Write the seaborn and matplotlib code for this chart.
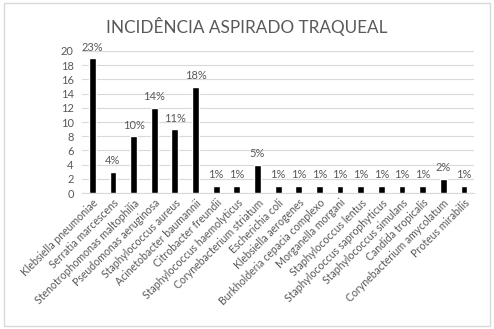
import matplotlib
matplotlib.use("Agg")
import matplotlib.pyplot as plt
import seaborn as sns
import pandas as pd

categories = [
    "Klebsiella pneumoniae", "Serratia marcescens", "Stenotrophomonas maltophilia",
    "Pseudomonas aeruginosa", "Staphylococcus aureus", "Acinetobacter baumannii",
    "Citrobacter freundii", "Staphylococcus haemolyticus", "Corynebacterium striatum",
    "Escherichia coli", "Klebsiella aerogenes", "Burkholderia cepacia complexo",
    "Morganella morgani", "Staphylococcus lentus", "Staphylococcus saprophyticus",
    "Staphylococcus simulans", "Candida tropicalis", "Corynebacterium amycolatum",
    "Proteus mirabilis",
]
counts = [19, 3, 8, 12, 9, 15, 1, 1, 4, 1, 1, 1, 1, 1, 1, 1, 1, 2, 1]
pct_labels = ["23%", "4%", "10%", "14%", "11%", "18%", "1%", "1%", "5%",
              "1%", "1%", "1%", "1%", "1%", "1%", "1%", "1%", "2%", "1%"]
y_ticks = [0, 2, 4, 6, 8, 10, 12, 14, 16, 18, 20]

sns.set_theme(style="white")
plt.rcParams["font.family"] = ["Lato", "DejaVu Sans"]

TXT = "#595959"
df = pd.DataFrame({"organismo": categories, "n": counts})

fig = plt.figure(figsize=(4.94, 3.29), dpi=100)
ax = fig.add_axes([0.166, 0.413, 0.794, 0.432])

sns.barplot(data=df, x="organismo", y="n", color="black", width=0.33,
            saturation=1, ax=ax, zorder=3)

ax.set_ylim(0, 20)
ax.set_yticks(y_ticks)
ax.set_xlim(-0.5, len(categories) - 0.5)
ax.yaxis.grid(True, color="#d9d9d9", linewidth=0.8, zorder=0)
ax.xaxis.grid(False)
for s in ["top", "right", "left"]:
    ax.spines[s].set_visible(False)
ax.spines["bottom"].set_color("#d9d9d9")
ax.spines["bottom"].set_linewidth(0.8)
ax.set_xlabel("")
ax.set_ylabel("")
ax.tick_params(axis="y", length=0, labelsize=8, labelcolor=TXT, pad=6)
ax.tick_params(axis="x", length=0, labelsize=7.6, labelcolor=TXT, pad=3)
plt.setp(ax.get_xticklabels(), rotation=45, ha="right", rotation_mode="anchor")

for i, (v, lab) in enumerate(zip(counts, pct_labels)):
    ax.annotate(lab, (i, v), xytext=(0, 4), textcoords="offset points",
                ha="center", va="bottom", fontsize=8, color=TXT)

fig.text(0.5, 0.918, "INCIDÊNCIA ASPIRADO TRAQUEAL", ha="center", va="center",
         fontsize=12.3, color=TXT)

# outer chart frame
fig.patches.append(plt.Rectangle((0.008, 0.01), 0.984, 0.98, transform=fig.transFigure,
                                 fill=False, edgecolor="#d9d9d9", linewidth=1))

fig.savefig("out.png", dpi=100)
